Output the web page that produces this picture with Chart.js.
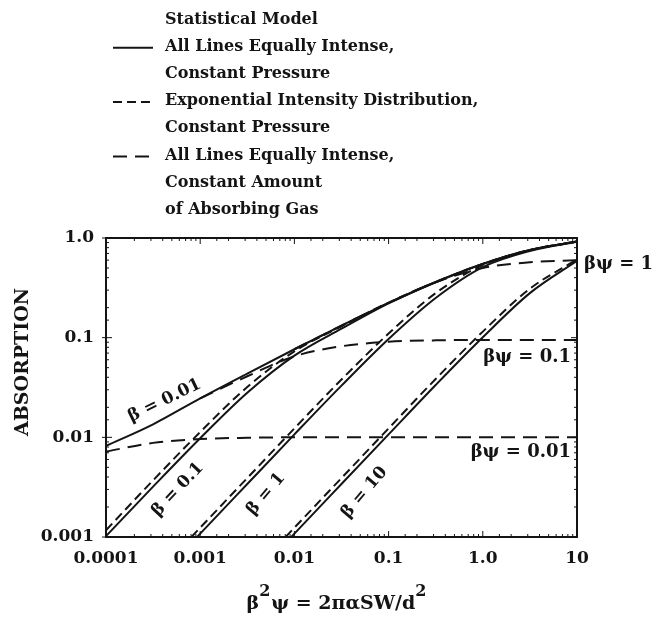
<!DOCTYPE html>
<html><head><meta charset="utf-8">
<script src="https://cdn.jsdelivr.net/npm/chart.js@4.4.0/dist/chart.umd.min.js"></script>
<style>html,body{margin:0;padding:0;background:#fff}#wrap{width:668px;height:617px;position:relative}</style>
</head><body><div id="wrap"><canvas id="c" width="668" height="617"></canvas></div>
<script>
// ---- data ----
const xValues = [0.0001, 0.000316, 0.001, 0.00316, 0.01, 0.0316, 0.1, 0.316, 1, 3.16, 10];
// All lines equally intense, constant pressure (solid)
const equalBeta001 = [0.0082, 0.0135, 0.0246, 0.0436, 0.0765, 0.132, 0.223, 0.362, 0.550, 0.758, 0.920];
const equalBeta01  = [0.00102, 0.0032, 0.0098, 0.028, 0.066, 0.123, 0.221, 0.360, 0.549, 0.758, 0.920];
const equalBeta1   = [null, 0.00034, 0.00108, 0.0034, 0.0107, 0.033, 0.097, 0.25, 0.51, 0.74, 0.918];
const equalBeta10  = [null, null, null, 0.00034, 0.00108, 0.0034, 0.0107, 0.0335, 0.101, 0.28, 0.59];
// Exponential intensity distribution, constant pressure (dashed)
const expBeta01  = [0.00117, 0.0037, 0.0113, 0.032, 0.073, 0.13, 0.225, 0.362, 0.55, 0.758, 0.92];
const expBeta1   = [null, 0.00039, 0.00124, 0.0039, 0.0123, 0.038, 0.11, 0.28, 0.535, 0.752, 0.92];
const expBeta10  = [null, null, null, 0.00039, 0.00124, 0.0039, 0.0123, 0.0385, 0.115, 0.31, 0.61];
// All lines equally intense, constant amount of absorbing gas (long dash)
const amountBp001 = [0.0072, 0.0088, 0.0096, 0.0099, 0.01, 0.01, 0.01, 0.01, 0.01, 0.01, 0.01];
const amountBp01  = [null, null, 0.0246, 0.041, 0.065, 0.082, 0.091, 0.094, 0.095, 0.095, 0.095];
const amountBp1   = [null, null, null, null, 0.0765, 0.132, 0.223, 0.36, 0.50, 0.57, 0.60];

const xTickValues = [0.0001, 0.001, 0.01, 0.1, 1, 10];
const xTickLabels = ['0.0001', '0.001', '0.01', '0.1', '1.0', '10'];
const yTickValues = [0.001, 0.01, 0.1, 1];
const yTickLabels = ['0.001', '0.01', '0.1', '1.0'];

const yTitle = 'ABSORPTION';
const xTitleParts = [['β', false], ['2', true], ['ψ = 2παSW/d', false], ['2', true]];
const legendTitle = 'Statistical Model';
const legendEntries = [
  ['All Lines Equally Intense,', 'Constant Pressure'],
  ['Exponential Intensity Distribution,', 'Constant Pressure'],
  ['All Lines Equally Intense,', 'Constant Amount', 'of Absorbing Gas']
];
const betaLabels = ['β = 0.01', 'β = 0.1', 'β = 1', 'β = 10'];
const betaLabelAt = [[0.00042, 0.0234], [0.00058, 0.0030], [0.0050, 0.0027], [0.0555, 0.0028]];
const bpLabels = ['βψ = 1', 'βψ = 0.1', 'βψ = 0.01'];
const bpLabelAt = [0.54, 0.063, 0.0071];

// ---- styles ----
const INK = '#141414';
const FONT = '"DejaVu Serif", serif';
const SOLID = [], EXPDASH = [9, 5], AMTDASH = [14, 8];

function pts(arr) {
  const out = [];
  arr.forEach((v, i) => { if (v !== null) out.push({x: xValues[i], y: v}); });
  return out;
}
function ds(arr, dash) {
  return {data: pts(arr), borderColor: INK, borderWidth: 2, borderDash: dash,
          pointRadius: 0, fill: false, cubicInterpolationMode: 'monotone'};
}
function lookup(v, vals, labels) {
  for (let i = 0; i < vals.length; i++) {
    if (Math.abs(Math.log10(v) - Math.log10(vals[i])) < 1e-6) return labels[i];
  }
  return '';
}

const decor = {
  id: 'decor',
  afterDatasetsDraw(chart) {
    const {ctx, chartArea: a, scales: {x, y}} = chart;
    ctx.save();
    // frame
    ctx.strokeStyle = INK; ctx.lineWidth = 2; ctx.setLineDash([]);
    ctx.strokeRect(a.left, a.top, a.right - a.left, a.bottom - a.top);
    // tick marks
    ctx.lineWidth = 1;
    x.ticks.forEach(t => {
      const px = x.getPixelForValue(t.value);
      const major = lookup(t.value, xTickValues, xTickLabels) !== '';
      ctx.beginPath();
      ctx.moveTo(px, a.bottom); ctx.lineTo(px, a.bottom - (major ? 6 : 3));
      ctx.moveTo(px, a.top); ctx.lineTo(px, a.top + (major ? 6 : 3));
      ctx.stroke();
    });
    y.ticks.forEach(t => {
      const py = y.getPixelForValue(t.value);
      const major = lookup(t.value, yTickValues, yTickLabels) !== '';
      ctx.beginPath();
      ctx.moveTo(a.left, py); ctx.lineTo(a.left + (major ? 6 : 3), py);
      ctx.moveTo(a.right, py); ctx.lineTo(a.right - (major ? 6 : 3), py);
      if (major) { ctx.moveTo(a.left, py); ctx.lineTo(a.left - 4, py); }
      ctx.stroke();
    });
    ctx.fillStyle = INK;
    // beta labels along curves
    ctx.font = 'bold 17px ' + FONT;
    ctx.textAlign = 'center'; ctx.textBaseline = 'middle';
    const ang = [-26, -47, -50, -50];
    betaLabels.forEach((t, i) => {
      const px = x.getPixelForValue(betaLabelAt[i][0]);
      const py = y.getPixelForValue(betaLabelAt[i][1]);
      ctx.save(); ctx.translate(px, py); ctx.rotate(ang[i] * Math.PI / 180);
      ctx.fillText(t, 0, 0); ctx.restore();
    });
    // beta-psi labels
    ctx.font = 'bold 18px ' + FONT;
    ctx.textAlign = 'left';
    ctx.fillText(bpLabels[0], a.right + 7, y.getPixelForValue(bpLabelAt[0]));
    ctx.textAlign = 'right';
    ctx.fillText(bpLabels[1], a.right - 6, y.getPixelForValue(bpLabelAt[1]));
    ctx.fillText(bpLabels[2], a.right - 6, y.getPixelForValue(bpLabelAt[2]));
    // y title
    ctx.save();
    ctx.font = 'bold 19px ' + FONT;
    ctx.textAlign = 'center'; ctx.textBaseline = 'middle';
    ctx.translate(23, 362); ctx.rotate(-Math.PI / 2);
    ctx.fillText(yTitle, 0, 0);
    ctx.restore();
    // x title with superscripts
    const mainF = 'bold 19px ' + FONT, supF = 'bold 16px ' + FONT;
    let total = 0;
    xTitleParts.forEach(([t, sup]) => { ctx.font = sup ? supF : mainF; total += ctx.measureText(t).width + (sup ? 1 : 0); });
    let cx = 337 - total / 2;
    ctx.textAlign = 'left'; ctx.textBaseline = 'alphabetic';
    xTitleParts.forEach(([t, sup]) => {
      ctx.font = sup ? supF : mainF;
      ctx.fillText(t, cx, sup ? 596 : 609);
      cx += ctx.measureText(t).width + (sup ? 1 : 0);
    });
    // legend
    ctx.font = 'bold 16px ' + FONT;
    ctx.textAlign = 'left'; ctx.textBaseline = 'middle';
    const tx = 165, lx0 = 113, lx1 = 153;
    let row = 0;
    const rowY = r => 19.5 + r * 27.2;
    ctx.fillText(legendTitle, tx, rowY(row++));
    const dashes = [SOLID, EXPDASH, AMTDASH];
    legendEntries.forEach((lines, k) => {
      const yy = rowY(row);
      ctx.save(); ctx.lineWidth = 2; ctx.setLineDash(dashes[k]);
      ctx.beginPath(); ctx.moveTo(lx0, yy + 1); ctx.lineTo(lx1, yy + 1); ctx.stroke(); ctx.restore();
      lines.forEach(l => { ctx.fillText(l, tx, rowY(row++)); });
    });
    ctx.restore();
  }
};

const tickFont = {family: FONT, size: 17, weight: 'bold'};
new Chart(document.getElementById('c'), {
  type: 'line',
  data: {datasets: [
    ds(equalBeta001, SOLID), ds(equalBeta01, SOLID), ds(equalBeta1, SOLID), ds(equalBeta10, SOLID),
    ds(expBeta01, EXPDASH), ds(expBeta1, EXPDASH), ds(expBeta10, EXPDASH),
    ds(amountBp001, AMTDASH), ds(amountBp01, AMTDASH), ds(amountBp1, AMTDASH)
  ]},
  options: {
    responsive: false, animation: false, devicePixelRatio: 1,
    layout: {padding: {left: 0, right: 91, top: 238, bottom: 0}},
    plugins: {legend: {display: false}, tooltip: {enabled: false}},
    scales: {
      x: {type: 'logarithmic', position: 'bottom', min: 0.0001, max: 10,
        afterFit(s) { s.height = 80; },
        grid: {display: false, drawTicks: false}, border: {display: false},
        ticks: {autoSkip: false, maxRotation: 0, minRotation: 0, padding: 11, color: INK, font: tickFont,
          callback: v => lookup(v, xTickValues, xTickLabels)},
        title: {display: false}
      },
      y: {type: 'logarithmic', position: 'left', min: 0.001, max: 1,
        afterFit(s) { s.width = 106; },
        grid: {display: false, drawTicks: false}, border: {display: false},
        ticks: {autoSkip: false, padding: 12, color: INK, font: tickFont,
          callback: v => lookup(v, yTickValues, yTickLabels)},
        title: {display: false}
      }
    }
  },
  plugins: [decor]
});
</script></body></html>
